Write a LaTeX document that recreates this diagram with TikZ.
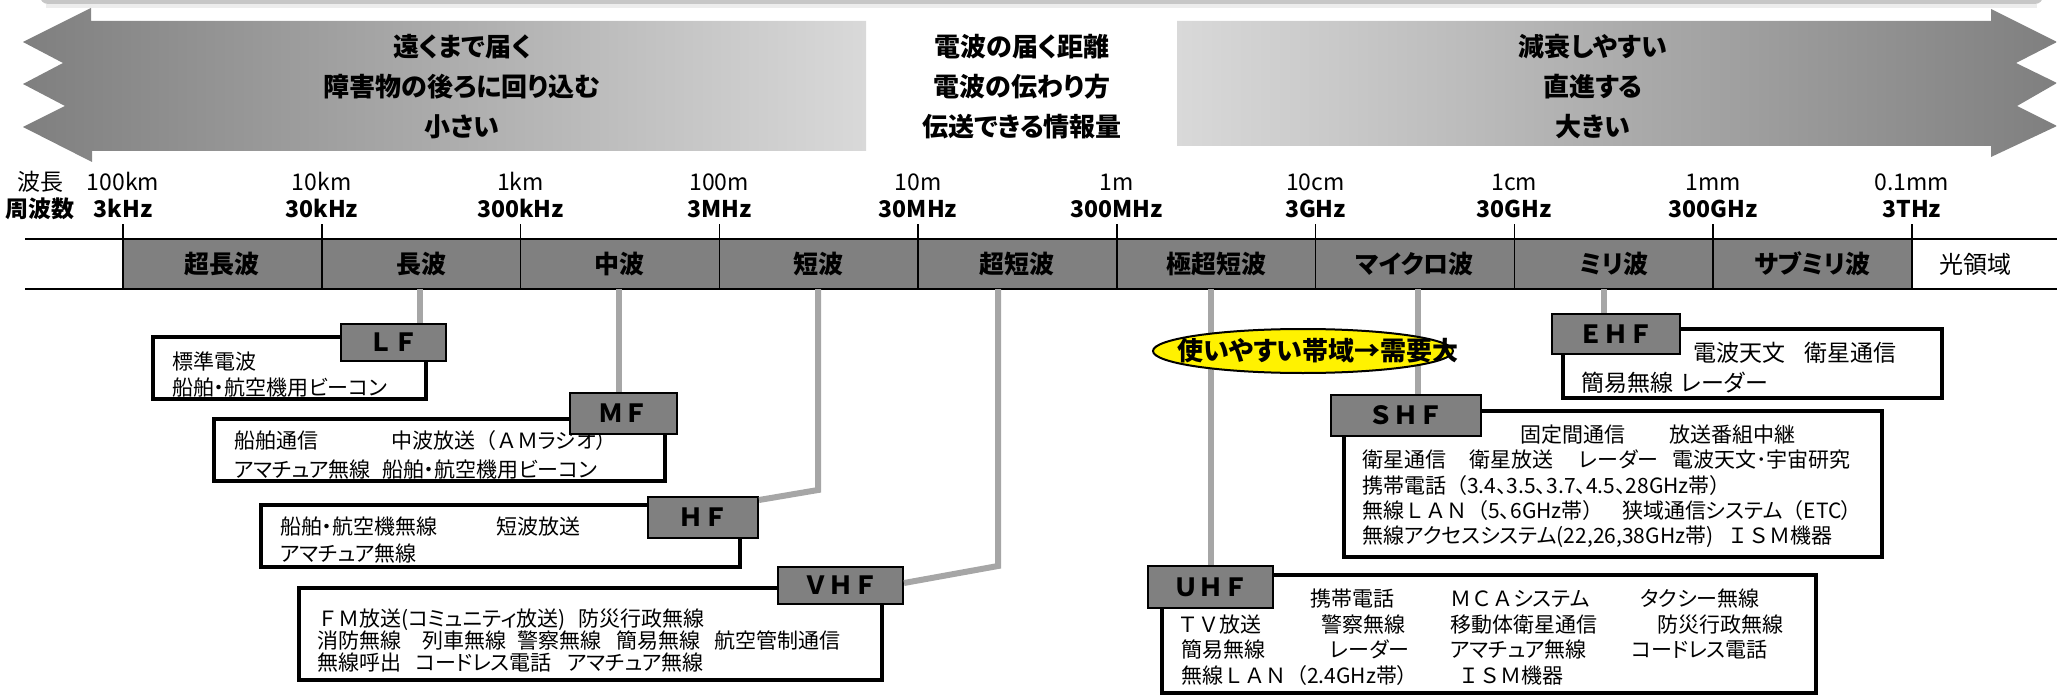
\documentclass[tikz,border=0pt]{standalone}
\usepackage{fontspec}
\setmainfont[RawFeature=+palt]{Noto Sans CJK JP}
\newfontfamily\fw{Noto Sans CJK JP}
\usetikzlibrary{shapes.geometric,fit}
\definecolor{arrdark}{HTML}{7F7F7F}
\definecolor{arrlight}{HTML}{D9D9D9}
\definecolor{bandgray}{HTML}{808080}
\definecolor{linkgray}{HTML}{A6A6A6}
\newcommand\lbltext[1]{\raisebox{-2.5pt}{#1}}
\tikzset{
  cbox/.style={draw=black, line width=4.5pt, fill=white, inner sep=0pt},
  lbox/.style={draw=black, line width=2pt, fill=bandgray, inner sep=0pt, anchor=center, font=\fw\bfseries\fontsize{25}{25}\selectfont},
  linkline/.style={draw=linkgray, line width=6pt},
  tx/.style={anchor=base west, inner sep=0pt, font=\fontsize{21}{25}\selectfont},
  txl/.style={anchor=base west, inner sep=0pt, font=\fontsize{23}{27}\selectfont},
  toptext/.style={anchor=base, inner sep=0pt, font=\bfseries\fontsize{26}{30}\selectfont},
  wl/.style={anchor=base, inner sep=0pt, font=\fontsize{23}{27}\selectfont},
  fl/.style={anchor=base, inner sep=0pt, font=\bfseries\fontsize{23}{27}\selectfont},
  bl/.style={anchor=center, inner sep=0pt, font=\bfseries\fontsize{25}{29}\selectfont},
}
\begin{document}
\begin{tikzpicture}[x=1pt,y=-1pt]
\useasboundingbox (0,0) rectangle (2057,698);
% top strip
\fill[black!22, rounded corners=8pt] (40,-30) rectangle (2043,4);
\fill[black!7] (46,4) rectangle (2037,8);
% arrows
\shade[left color=arrdark, right color=arrlight] (866,21) -- (91,21) -- (91,8) -- (23,42) -- (63,63) -- (23,84) -- (65,106) -- (23,127) -- (92,162) -- (92,151) -- (866,151) -- cycle;
\shade[left color=arrlight, right color=arrdark] (1177,21) -- (1991,21) -- (1991,9) -- (2057,42) -- (2016,63) -- (2057,83) -- (2017,106) -- (2057,126) -- (1991,157) -- (1991,146) -- (1177,146) -- cycle;
\node[toptext] (lt1) at (462,57) {遠くまで届く};
\node[toptext] (lt2) at (462,97) {障害物の後ろに回り込む};
\node[toptext] (lt3) at (462,137) {小さい};
\node[toptext] (ct1) at (1022,57) {電波の届く距離};
\node[toptext] (ct2) at (1022,97) {電波の伝わり方};
\node[toptext] (ct3) at (1022,137) {伝送できる情報量};
\node[toptext] (rt1) at (1593,57) {減衰しやすい};
\node[toptext] (rt2) at (1593,97) {直進する};
\node[toptext] (rt3) at (1593,137) {大きい};
% scale band
\fill[bandgray] (123,239) rectangle (1911.75,289);
\draw[line width=2pt] (25,239) -- (2057,239);
\draw[line width=2pt] (25,289) -- (2057,289);
\foreach \i in {0,...,9} \draw[line width=1.5pt] ({123+198.75*\i},224) -- ({123+198.75*\i},289);
\node[wl] (hacho) at (40,190) {波長};
\node[fl] (shuha) at (40,217) {周波数};
\foreach \w/\f [count=\i from 0] in {100km/3kHz,10km/30kHz,1km/300kHz,100m/3MHz,10m/30MHz,1m/300MHz,10cm/3GHz,1cm/30GHz,1mm/300GHz,0.1mm/3THz} {
  \node[wl] (w\i) at ({123+198.75*\i},190) {\w};
  \node[fl] (f\i) at ({123+198.75*\i},217) {\f};
}
\foreach \b [count=\i from 0] in {超長波,長波,中波,短波,超短波,極超短波,マイクロ波,ミリ波,サブミリ波}
  \node[bl] (b\i) at ({123+198.75*\i+99.4},264) {\b};
\node[anchor=center, inner sep=0pt, font=\fontsize{24}{28}\selectfont] (opt) at (1975,264) {光領域};
% content boxes
\node[cbox, fit={(153,337) (426,399)}] (lfbox) {};
\node[cbox, fit={(214,419) (665,481)}] (mfbox) {};
\node[cbox, fit={(261,505) (740,567)}] (hfbox) {};
\node[cbox, fit={(299,588) (882,680)}] (vhfbox) {};
\node[cbox, fit={(1162,575) (1816,693)}] (uhfbox) {};
\node[cbox, fit={(1344,411) (1882,557)}] (shfbox) {};
\node[cbox, fit={(1563,329) (1942,398)}] (ehfbox) {};
% texts
\node[tx] (lf1) at (172,369) {標準電波};
\node[tx] (lf2) at (172,395) {船舶・航空機用ビーコン};
\node[tx] (mf1) at (234,448) {船舶通信};
\node[tx] (mf2) at (391,448) {中波放送{\fw （ＡＭ}ラジオ）};
\node[tx] (mf3) at (234,477) {アマチュア無線};
\node[tx] (mf4) at (382,477) {船舶・航空機用ビーコン};
\node[tx] (hf1) at (280,534) {船舶・航空機無線};
\node[tx] (hf2) at (496,534) {短波放送};
\node[tx] (hf3) at (280,561) {アマチュア無線};
\node[tx] (v1) at (317,626) {{\fw ＦＭ}放送(コミュニティ放送)};
\node[tx] (v2) at (578,626) {防災行政無線};
\node[tx] (v3) at (317,648) {消防無線};
\node[tx] (v4) at (422,648) {列車無線};
\node[tx] (v5) at (517,648) {警察無線};
\node[tx] (v6) at (616,648) {簡易無線};
\node[tx] (v7) at (714,648) {航空管制通信};
\node[tx] (v8) at (317,670) {無線呼出};
\node[tx] (v9) at (415,670) {コードレス電話};
\node[tx] (v10) at (567,670) {アマチュア無線};
\node[tx] (u1) at (1310,606) {携帯電話};
\node[tx] (u2) at (1450,606) {{\fw ＭＣＡ}システム};
\node[tx] (u3) at (1640,606) {タクシー無線};
\node[tx] (u4) at (1177,632) {{\fw ＴＶ}放送};
\node[tx] (u5) at (1321,632) {警察無線};
\node[tx] (u6) at (1450,632) {移動体衛星通信};
\node[tx] (u7) at (1657,632) {防災行政無線};
\node[tx] (u8) at (1181,657) {簡易無線};
\node[tx] (u9) at (1330,657) {レーダー};
\node[tx] (u10) at (1450,657) {アマチュア無線};
\node[tx] (u11) at (1631,657) {コードレス電話};
\node[tx] (u12) at (1181,683) {無線{\fw ＬＡＮ（}2.4GHz帯）};
\node[tx] (u13) at (1458,683) {{\fw ＩＳＭ}機器};
\node[tx] (s1) at (1520,442) {固定間通信};
\node[tx] (s2) at (1669,442) {放送番組中継};
\node[tx] (s3) at (1362,467) {衛星通信};
\node[tx] (s4) at (1469,467) {衛星放送};
\node[tx] (s5) at (1579,467) {レーダー};
\node[tx] (s6) at (1672,467) {電波天文･宇宙研究};
\node[tx] (s7) at (1362,493) {携帯電話{\fw （}3.4、3.5、3.7、4.5、28GHz帯）};
\node[tx] (s8) at (1362,518) {無線{\fw ＬＡＮ（}5、6GHz帯）};
\node[tx] (s9) at (1622,518) {狭域通信システム{\fw （}ETC）};
\node[tx] (s10) at (1362,543) {無線アクセスシステム(22,26,38GHz帯)};
\node[tx] (s11) at (1727,543) {{\fw ＩＳＭ}機器};
\node[txl] (e1) at (1693,361) {電波天文};
\node[txl] (e2) at (1804,361) {衛星通信};
\node[txl] (e3) at (1581,391) {簡易無線};
\node[txl] (e4) at (1681,391) {レーダー};
% labels
\node[lbox, minimum width=105pt, minimum height=37pt] (lflab) at (393.5,342.5) {\lbltext{ＬＦ}};
\node[lbox, minimum width=107pt, minimum height=41pt] (mflab) at (623.5,413.5) {\lbltext{ＭＦ}};
\node[lbox, minimum width=110pt, minimum height=41pt] (hflab) at (703,517.5) {\lbltext{ＨＦ}};
\node[lbox, minimum width=125pt, minimum height=37pt] (vhflab) at (840.5,585.5) {\lbltext{ＶＨＦ}};
\node[lbox, minimum width=125pt, minimum height=42pt] (uhflab) at (1210.5,587) {\lbltext{ＵＨＦ}};
\node[lbox, minimum width=150pt, minimum height=41pt] (shflab) at (1406,415.5) {\lbltext{ＳＨＦ}};
\node[lbox, minimum width=128pt, minimum height=40pt] (ehflab) at (1616,334) {\lbltext{ＥＨＦ}};
% connectors
\coordinate (lfA) at (420,289);
\coordinate (mfA) at (619,289);
\coordinate (hfA) at (818,289);
\coordinate (hfB) at (818,490);
\coordinate (hfC) at (759,500);
\coordinate (vhfA) at (998,289);
\coordinate (vhfB) at (998,566);
\coordinate (vhfC) at (904,583);
\coordinate (uhfA) at (1211,289);
\coordinate (shfA) at (1418,289);
\coordinate (ehfA) at (1604,289);
\draw[linkline] (lfA) -- (lfA |- lflab.north);
\draw[linkline] (mfA) -- (mfA |- mflab.north);
\draw[linkline] (hfA) -- (hfB) -- (hfC);
\draw[linkline] (vhfA) -- (vhfB) -- (vhfC);
\draw[linkline] (uhfA) -- (uhfA |- uhflab.north);
\draw[linkline] (shfA) -- (shfA |- shflab.north);
\draw[linkline] (ehfA) -- (ehfA |- ehflab.north);
% ellipse
\node[draw=black, line width=2pt, fill=yellow, ellipse, minimum width=300pt, minimum height=44pt, inner sep=0pt] (ell) at (1303,351) {};
\node[anchor=center, inner sep=0pt, font=\bfseries\fontsize{26}{30}\selectfont] (elltxt) at (1318,351) {使いやすい帯域→需要大};
\end{tikzpicture}
\end{document}
